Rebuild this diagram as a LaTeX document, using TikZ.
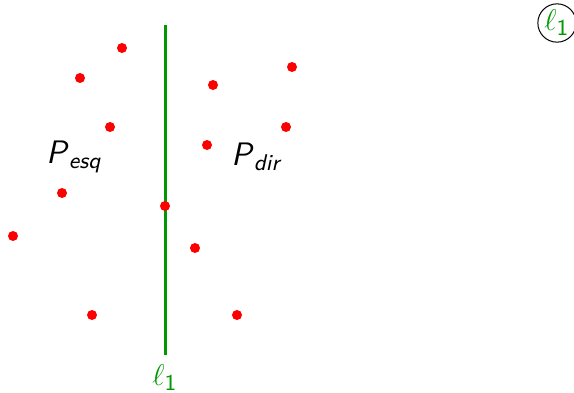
\documentclass[tikz,border=0pt]{standalone}
\usepackage{amsmath}
\usepackage{xcolor}
\usepackage{tikz}
\usetikzlibrary{positioning}
\definecolor{linegreen}{RGB}{0,153,0}
\tikzset{
	pt/.style={circle, fill=red, inner sep=0pt, minimum size=4pt},
	lbl/.style={font=\fontsize{13}{15}\selectfont\sffamily},
}
\begin{document}
\begin{tikzpicture}[x=0.4pt, y=-0.4pt]
	\useasboundingbox (0,0) rectangle (574,393);
	% Line and its ends:
	\coordinate (L1top) at (165,25);
	\coordinate (L1bot) at (165,355);
	\draw[linegreen, line width=1.2pt] (L1top) -- (L1bot);
	% Points:
	\foreach \name/\x/\y in {a/122/48, b/80/78, c/110/127, d/62/193, e/13/236, f/92/315, g/165/206,
		h/213/85, i/292/67, j/286/127, k/207/145, l/195/248, m/237/315}
		\node[pt] (P\name) at (\x,\y) {};
	% Labels:
	\node[lbl] (Pesq) at (74,157) {\textit{P}$_{\textit{esq}}$};
	\node[lbl] (Pdir) at (256,157) {\textit{P}$_{\textit{dir}}$};
	\node[lbl, text=linegreen, inner sep=1pt] (L1lbl) at (165,378) {$\ell_{\textsf{1}}$};
	\node[lbl, text=linegreen, draw=black, circle, inner sep=0.3pt] (L1circ) at (557,23) {$\ell_{\textsf{1}}$};
\end{tikzpicture}
\end{document}
